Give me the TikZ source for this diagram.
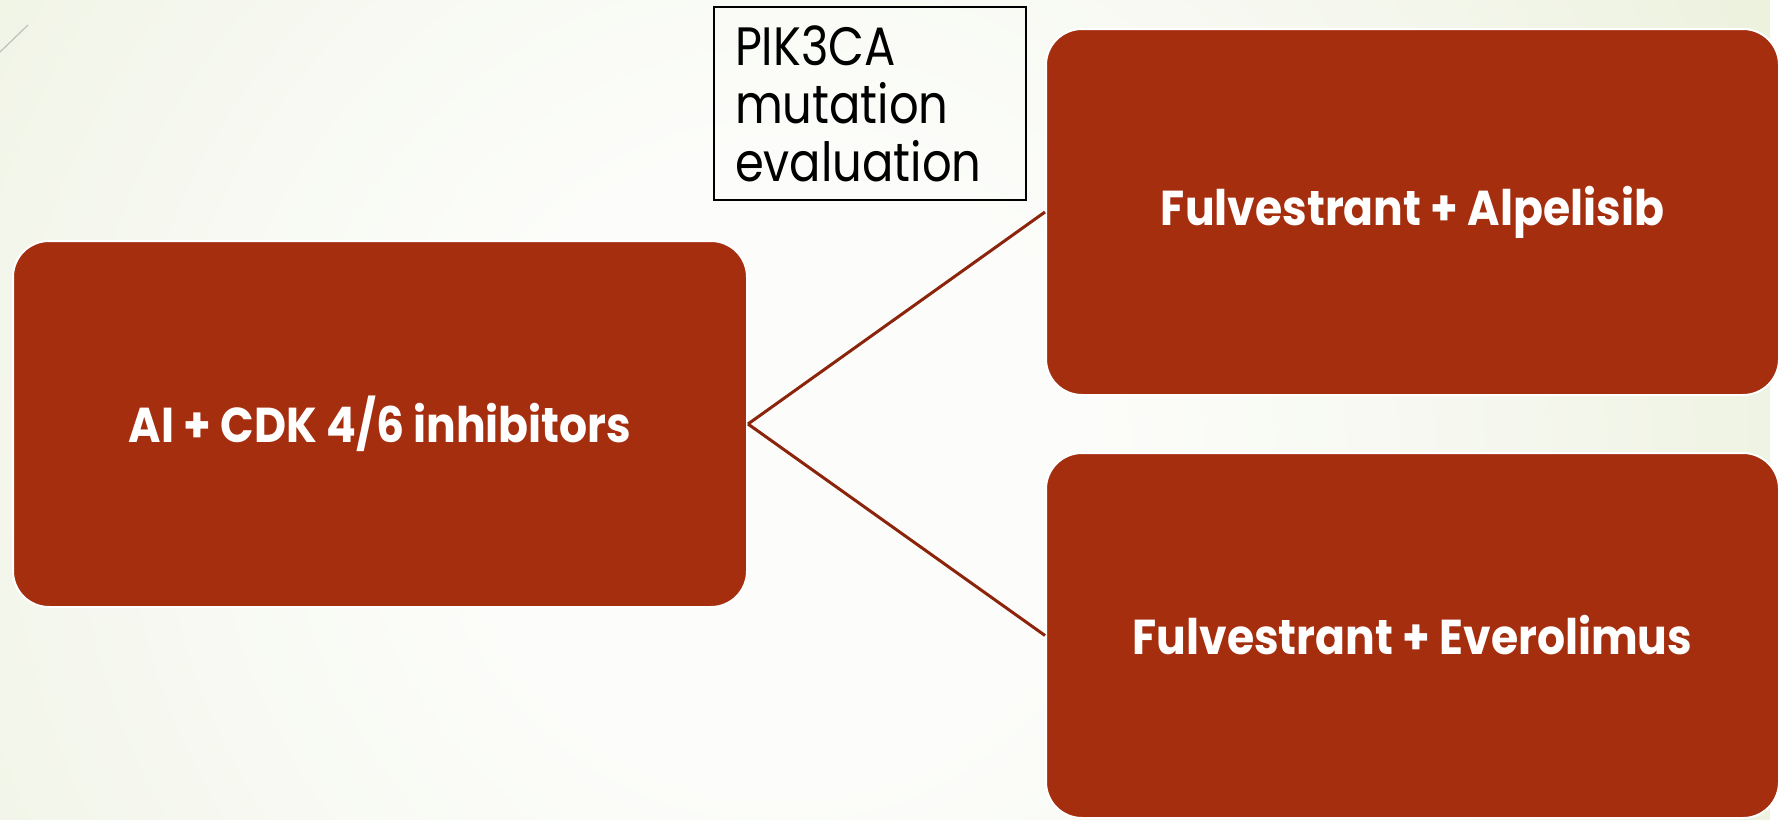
\documentclass[tikz,border=0pt]{standalone}
\usepackage{fontspec}
\setmainfont{Poppins}
\newfontfamily\boxfont[FakeStretch=0.9]{Poppins}
\newfontfamily\pikfont[FakeStretch=0.86]{Poppins}
\definecolor{boxred}{RGB}{165,46,15}
\definecolor{linered}{RGB}{140,36,12}
\definecolor{bgwhite}{RGB}{252,253,250}
\definecolor{bgpale}{RGB}{246,248,240}
\definecolor{bgmid}{RGB}{237,242,223}
\definecolor{bgouter}{RGB}{228,236,207}
\definecolor{bgfar}{RGB}{222,232,195}
\definecolor{bgfarther}{RGB}{216,228,186}
\pgfdeclareradialshading{bgshade}{\pgfpoint{0bp}{0bp}}{%
  color(0bp)=(bgwhite); color(8bp)=(bgwhite); color(17bp)=(bgpale);
  color(27bp)=(bgmid); color(35bp)=(bgouter); color(41bp)=(bgfar); color(50bp)=(bgfarther)}
\begin{document}
\begin{tikzpicture}[x=0.5pt,y=-0.5pt,
  redbox/.style={draw=white,line width=1pt,fill=boxred,rounded corners=18pt,
    text=white,font=\boxfont\fontsize{24.5}{28}\selectfont\bfseries,inner sep=0pt},
  link/.style={draw=linered,line width=1.5pt}]
\useasboundingbox (0,0) rectangle (1786,819);
\begin{scope}
\clip (0,0) rectangle (1786,819);
\shade[shading=bgshade] (-210,-520) rectangle (1770,1460);
\end{scope}
\draw[gray!50,line width=0.6pt] (0,52) -- (28,25);
\node[redbox,minimum width=367pt,minimum height=183pt] (ai) at (380,424) {AI + CDK 4/6 inhibitors};
\node[redbox,minimum width=366.5pt,minimum height=183pt] (alp) at (1412.5,212) {Fulvestrant + Alpelisib};
\node[redbox,minimum width=366.5pt,minimum height=182.5pt] (eve) at (1412.5,635.5) {Fulvestrant + Everolimus};
\node[draw=black,line width=0.7pt,minimum width=156pt,minimum height=96.5pt,
  text width=135pt,align=left,inner sep=0pt,
  font=\pikfont\fontsize{27}{29}\selectfont] (pik) at (870,103.5) {PIK3CA\\mutation\\evaluation};
\draw[link] (ai.east) -- (alp.west);
\draw[link] (ai.east) -- (eve.west);
\end{tikzpicture}
\end{document}
